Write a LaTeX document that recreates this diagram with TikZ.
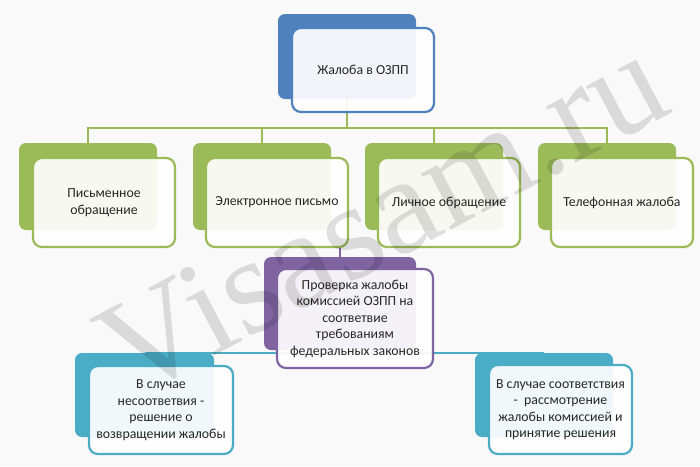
\documentclass[tikz,border=0pt]{standalone}
\usepackage{fontspec}
\setmainfont{Carlito}
\newfontfamily\wmfont{Liberation Serif}
\definecolor{cblue}{HTML}{4F81BD}
\definecolor{cgreen}{HTML}{9BBB59}
\definecolor{cpurple}{HTML}{8064A2}
\definecolor{cteal}{HTML}{4BACC6}
\definecolor{bgcol}{HTML}{F8F9F8}
\begin{document}
\begin{tikzpicture}[x=1pt,y=-1pt,
  backbox/.style={rectangle,rounded corners=7pt,draw=none,fill=#1,inner sep=0pt},
  frontbox/.style={rectangle,rounded corners=9pt,draw=#1,line width=2.2pt,fill=white,fill opacity=0.92,text opacity=1,inner sep=2pt,align=center,font=\fontsize{13.8}{16.5}\selectfont,text=black!85},
  conn/.style={draw=#1,line width=2pt}]
\useasboundingbox[fill=bgcol] (0,0) rectangle (700,466);
% top
\node[backbox=cblue,minimum width=138pt,minimum height=85pt] (tb) at (347,56.5) {};
% green back boxes
\node[backbox=cgreen,minimum width=138pt,minimum height=87pt] (g1b) at (88,186.5) {};
\node[backbox=cgreen,minimum width=138pt,minimum height=87pt] (g2b) at (262,186.5) {};
\node[backbox=cgreen,minimum width=138pt,minimum height=87pt] (g3b) at (434,186.5) {};
\node[backbox=cgreen,minimum width=138pt,minimum height=87pt] (g4b) at (607,186.5) {};
% green connectors
\coordinate (hb) at (347,128);
\draw[conn=cgreen] (tb.south) -- (hb);
\draw[conn=cgreen] (g1b.north) |- (hb) -| (g4b.north);
\draw[conn=cgreen] (g2b.north) -- (g2b.north |- hb);
\draw[conn=cgreen] (g3b.north) -- (g3b.north |- hb);
% front top
\node[frontbox=cblue,minimum width=142pt,minimum height=84pt] (tf) at (363,70) {Жалоба в ОЗПП};
% green front
\node[frontbox=cgreen,minimum width=142pt,minimum height=89pt] (g1f) at (104,202.5) {Письменное\\обращение};
\node[frontbox=cgreen,minimum width=142pt,minimum height=89pt] (g2f) at (277,202.5) {Электронное письмо};
\node[frontbox=cgreen,minimum width=142pt,minimum height=89pt] (g3f) at (449,202.5) {Личное обращение};
\node[frontbox=cgreen,minimum width=142pt,minimum height=89pt] (g4f) at (622,202.5) {Телефонная жалоба};
% teal back boxes and connector
\node[backbox=cteal,minimum width=139pt,minimum height=84pt] (b1b) at (144.5,395) {};
\node[backbox=cteal,minimum width=138pt,minimum height=84pt] (b2b) at (544,395) {};
\draw[conn=cteal] (b1b.north) -- (b2b.north);
% purple
\node[backbox=cpurple,minimum width=152pt,minimum height=93pt] (pb) at (340,303.5) {};
\draw[conn=cpurple] (pb.north) -- (pb.north |- g2f.south);
\node[frontbox=cpurple,minimum width=156pt,minimum height=99pt] (pf) at (355,318.5) {Проверка жалобы\\комиссией ОЗПП на\\соответвие\\требованиям\\федеральных законов};
% teal front
\node[frontbox=cteal,minimum width=144pt,minimum height=88pt] (b1f) at (161,410) {В случае\\несоответвия -\\решение о\\возвращении жалобы};
\node[frontbox=cteal,minimum width=143pt,minimum height=89pt] (b2f) at (560.5,409.5) {В случае соответствия\\-\ \ рассмотрение\\жалобы комиссией и\\принятие решения};
% watermark
\node[text=black,opacity=0.12,rotate=28,font=\wmfont\fontsize{138}{138}\selectfont] (wm) at (382,216) {Visasam.ru};
\end{tikzpicture}
\end{document}
